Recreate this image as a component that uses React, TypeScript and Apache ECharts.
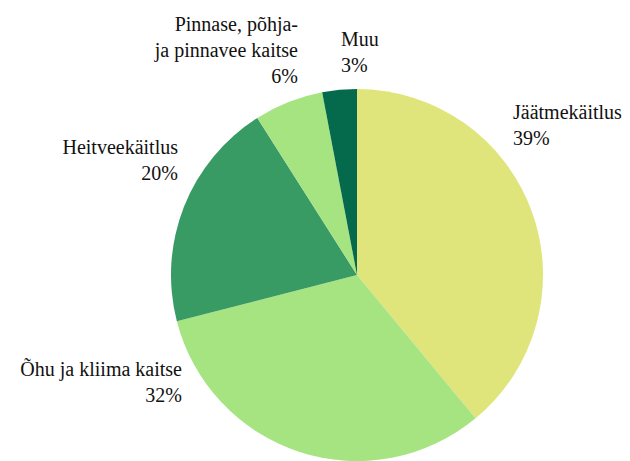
import React, { useEffect, useRef } from "react";
import * as echarts from "echarts";

const categories = [
  "Jäätmekäitlus",
  "Õhu ja kliima kaitse",
  "Heitveekäitlus",
  "Pinnase, põhja-\nja pinnavee kaitse",
  "Muu",
];
const values = [39, 32, 20, 6, 3];
const colors = ["#dfe47b", "#a6e482", "#389b63", "#a6e482", "#05694b"];
const labelPos: [number, number, "left" | "right"][] = [
  [513, 125, "left"],
  [182, 382, "right"],
  [178, 160, "right"],
  [298, 50, "right"],
  [341, 52, "left"],
];

const FONT = "Liberation Serif";

export default function App() {
  const ref = useRef<HTMLDivElement>(null);
  useEffect(() => {
    document.body.style.margin = "0";
    const chart = echarts.init(ref.current!, null, { renderer: "svg" });
    chart.setOption({
      animation: false,
      backgroundColor: "#ffffff",
      textStyle: { fontFamily: FONT },
      series: [
        {
          type: "pie",
          center: [357, 275],
          radius: 186,
          startAngle: 90,
          clockwise: true,
          avoidLabelOverlap: false,
          data: categories.map((name, i) => ({
            name,
            value: values[i],
            itemStyle: { color: colors[i] },
          })),
          itemStyle: { borderWidth: 0 },
          label: {
            show: true,
            position: "outside",
            formatter: (p: any) => `${p.name}\n${p.value}%`,
            fontFamily: FONT,
            fontSize: 20,
            lineHeight: 26,
            color: "#111",
          },
          labelLine: { show: false },
          labelLayout: (p: any) => {
            const [x, y, align] = labelPos[p.dataIndex];
            return { x, y, align, verticalAlign: "middle" };
          },
          emphasis: { disabled: true },
        },
      ],
    });
    return () => chart.dispose();
  }, []);
  return <div ref={ref} style={{ width: 630, height: 461 }} />;
}
